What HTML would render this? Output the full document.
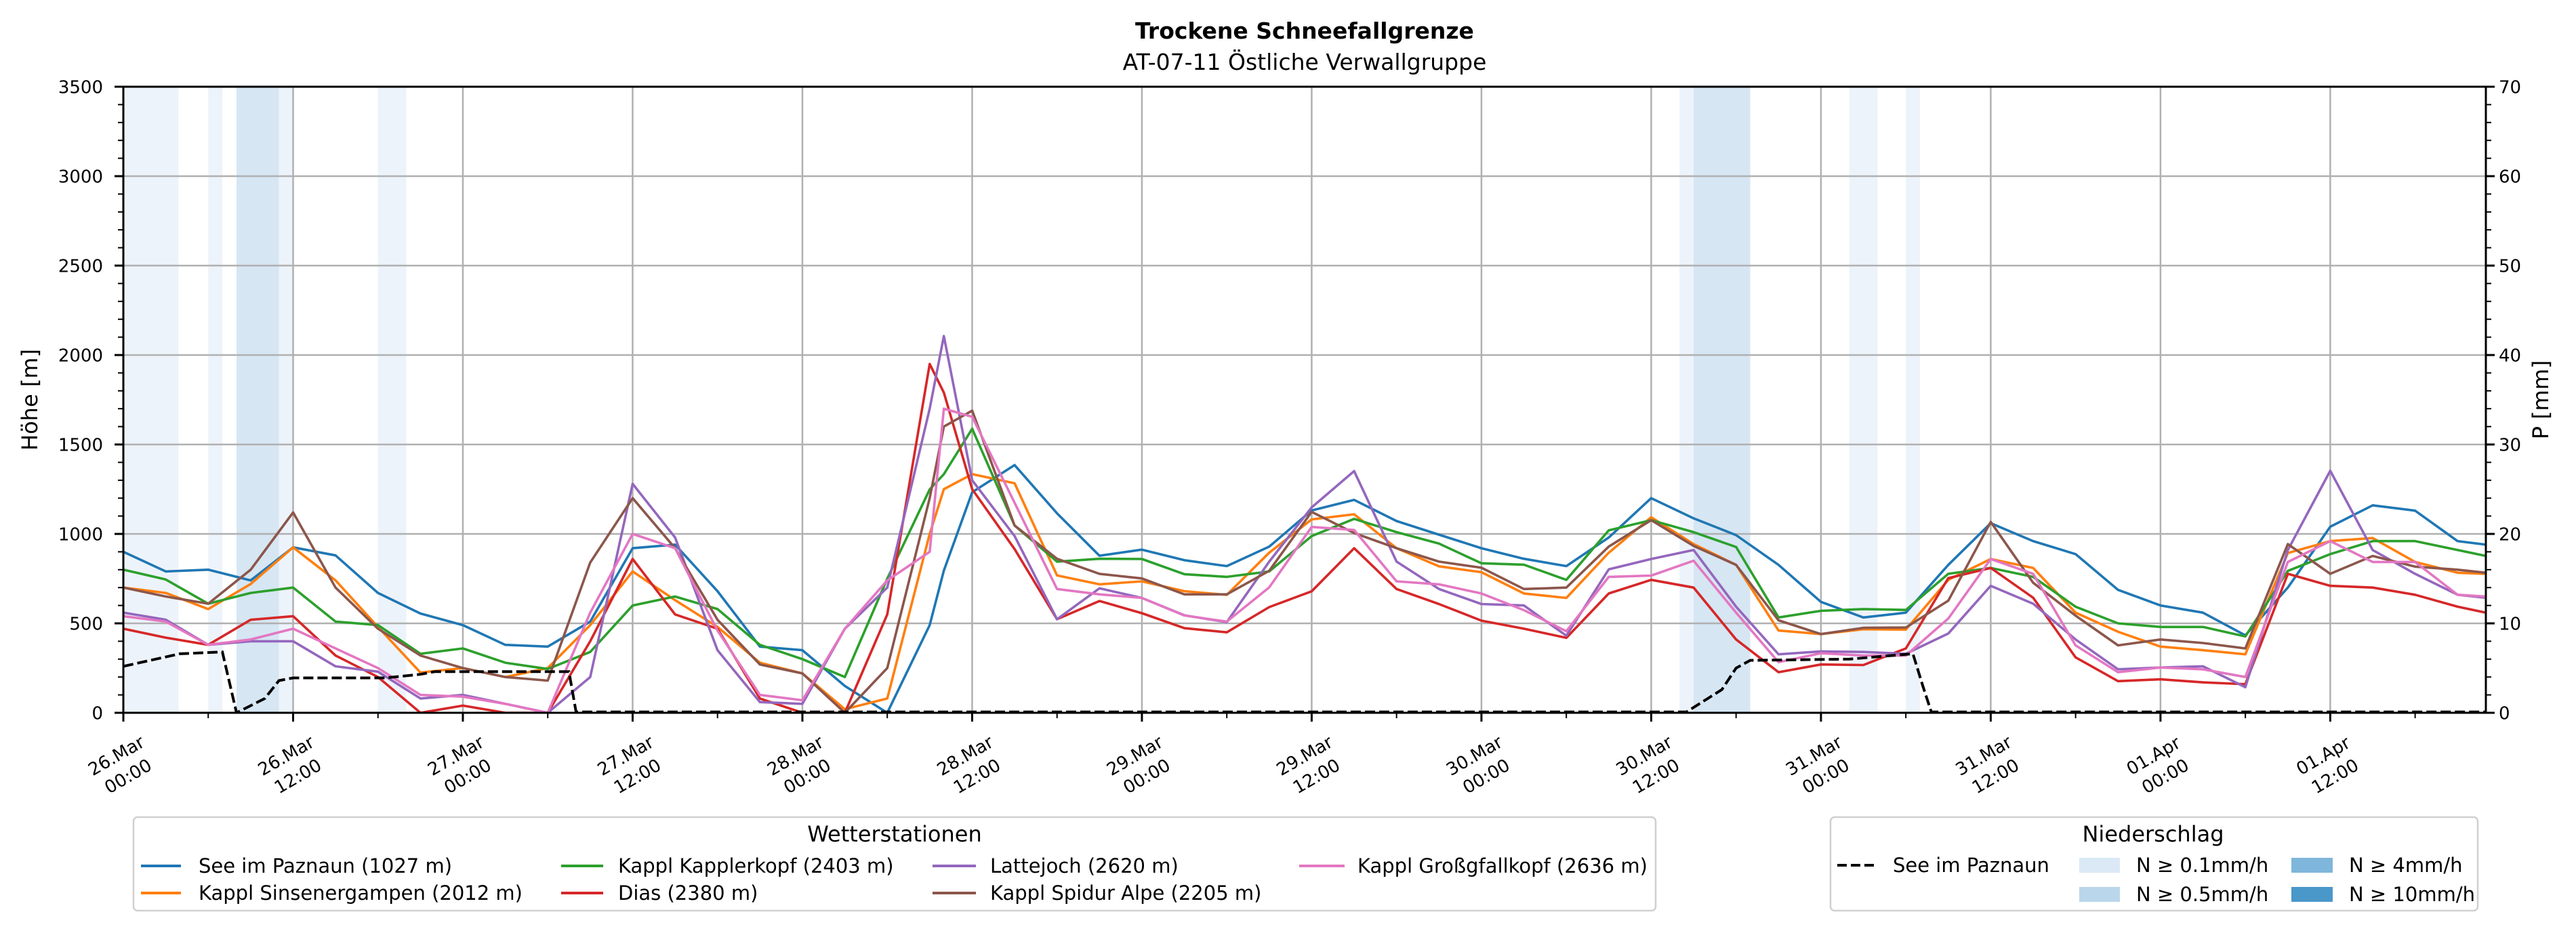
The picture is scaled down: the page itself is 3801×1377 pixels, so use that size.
<!DOCTYPE html>
<html><head><meta charset="utf-8">
<style>
html,body{margin:0;padding:0;background:#fff;}
svg{display:block;font-family:"DejaVu Sans","Liberation Sans",sans-serif;}
</style></head>
<body>
<svg id="chart" width="3801" height="1377" viewBox="0 0 3801 1377" xmlns="http://www.w3.org/2000/svg">
  <rect width="3801" height="1377" fill="#fff"/>
  <text x="1925" y="57" font-size="33" font-weight="bold" text-anchor="middle">Trockene Schneefallgrenze</text>
  <text x="1925" y="103" font-size="33" text-anchor="middle">AT-07-11 Östliche Verwallgruppe</text>
  <defs><clipPath id="plotclip"><rect x="182" y="128" width="3486" height="924"/></clipPath></defs>
  <g id="bands" clip-path="url(#plotclip)"></g>
  <g id="grid"></g>
  <g id="series" clip-path="url(#plotclip)"></g>
  <g id="axes"></g>
  <text transform="translate(55,590) rotate(-90)" font-size="32" text-anchor="middle">Höhe [m]</text>
  <text transform="translate(3760,590) rotate(-90)" font-size="32" text-anchor="middle">P [mm]</text>

  <g>
    <rect x="197" y="1206" width="2246" height="138" rx="6" fill="#fff" stroke="#d0d0d0" stroke-width="2.5"/>
    <text x="1320" y="1242" font-size="32" text-anchor="middle">Wetterstationen</text>
    <g font-size="29">
      <line x1="208" y1="1278" x2="267" y2="1278" stroke="#1f77b4" stroke-width="4"/>
      <text x="293" y="1288">See im Paznaun (1027 m)</text>
      <line x1="208" y1="1318" x2="267" y2="1318" stroke="#ff7f0e" stroke-width="4"/>
      <text x="293" y="1328">Kappl Sinsenergampen (2012 m)</text>
      <line x1="828" y1="1278" x2="890" y2="1278" stroke="#2ca02c" stroke-width="4"/>
      <text x="912" y="1288">Kappl Kapplerkopf (2403 m)</text>
      <line x1="828" y1="1318" x2="890" y2="1318" stroke="#d62728" stroke-width="4"/>
      <text x="912" y="1328">Dias (2380 m)</text>
      <line x1="1376" y1="1278" x2="1440" y2="1278" stroke="#9467bd" stroke-width="4"/>
      <text x="1461" y="1288">Lattejoch (2620 m)</text>
      <line x1="1376" y1="1318" x2="1440" y2="1318" stroke="#8c564b" stroke-width="4"/>
      <text x="1461" y="1328">Kappl Spidur Alpe (2205 m)</text>
      <line x1="1917" y1="1278" x2="1984" y2="1278" stroke="#e377c2" stroke-width="4"/>
      <text x="2003" y="1288">Kappl Großgfallkopf (2636 m)</text>
    </g>
  </g>

  <g>
    <rect x="2701" y="1206" width="955" height="138" rx="6" fill="#fff" stroke="#d0d0d0" stroke-width="2.5"/>
    <text x="3177" y="1242" font-size="32" text-anchor="middle">Niederschlag</text>
    <g font-size="29">
      <line x1="2711" y1="1277" x2="2768" y2="1277" stroke="#000" stroke-width="4" stroke-dasharray="14,6"/>
      <text x="2793" y="1287">See im Paznaun</text>
      <rect x="3068" y="1266" width="60" height="22" fill="#dbe9f6"/>
      <text x="3152" y="1287">N ≥ 0.1mm/h</text>
      <rect x="3068" y="1309" width="60" height="22" fill="#bad6eb"/>
      <text x="3152" y="1330">N ≥ 0.5mm/h</text>
      <rect x="3381" y="1266" width="61" height="22" fill="#7fb6db"/>
      <text x="3466" y="1287">N ≥ 4mm/h</text>
      <rect x="3381" y="1309" width="61" height="22" fill="#4a97c9"/>
      <text x="3466" y="1330">N ≥ 10mm/h</text>
    </g>
  </g>
</svg>
<script>
const hours = [0,3,6,9,12,15,18,21,24,27,30,33,36,39,42,45,48,51,54,57,58,60,63,66,69,72,75,78,81,84,87,90,93,96,99,102,105,108,111,114,117,120,123,126,129,132,135,138,141,144,147,150,153,156,159,162,165,167];
const seeValues = [900,790,800,740,925,880,670,555,490,380,370,510,920,940,680,370,350,150,0,490,795,1233,1385,1115,878,912,853,820,929,1131,1190,1072,996,920,861,820,980,1200,1087,993,827,620,533,560,827,1060,960,887,687,600,560,433,700,1040,1160,1130,960,940];
const sinsenValues = [700,670,580,720,925,740,480,225,250,200,250,490,790,630,480,280,220,20,80,1000,1250,1334,1283,768,718,735,680,659,895,1081,1110,920,819,786,667,642,895,1093,943,827,460,440,467,465,743,860,810,560,453,370,350,327,893,960,977,843,783,777];
const kapplerValues = [800,745,610,670,700,510,490,330,360,280,245,340,600,650,580,380,300,200,750,1249,1334,1588,1047,845,861,860,775,760,790,988,1084,1010,946,836,828,743,1020,1077,1010,927,533,570,580,575,777,810,760,593,500,480,480,427,793,887,960,960,910,877];
const diasValues = [470,420,380,520,540,320,200,0,40,0,0,400,860,550,470,80,0,0,550,1950,1790,1250,915,523,625,557,473,450,591,679,920,692,608,515,470,419,667,743,700,410,227,270,267,360,753,810,643,310,177,187,170,160,777,710,700,660,593,560];
const latteValues = [560,520,380,400,400,260,230,80,100,50,0,200,1280,980,350,60,50,470,700,1700,2106,1300,988,523,696,642,545,507,845,1148,1351,845,692,608,600,431,802,860,910,593,327,343,340,330,443,710,610,410,243,253,260,143,910,1353,910,777,660,643];
const spidurValues = [700,650,610,800,1120,700,470,320,250,200,180,840,1200,920,520,270,220,0,250,1200,1600,1689,1047,861,777,751,662,662,794,1123,1005,920,845,811,692,700,929,1077,933,827,517,440,475,477,627,1067,727,543,377,410,390,360,943,777,877,817,800,783];
const grossValues = [540,510,380,410,470,360,250,100,90,50,0,560,1000,920,460,100,70,470,740,900,1700,1655,1174,692,662,642,544,510,701,1039,1022,735,718,667,574,456,760,767,850,560,283,333,320,320,527,860,777,377,227,253,243,200,843,960,843,843,660,650];
const dashHours = [0,4,7,8,10,11,12,18.5,21,22,31.5,32,110.5,112,113,114,115,122,126.5,127.2,127.8,167];
const dashValues = [260,330,340,0,80,180,195,195,215,230,230,5,5,80,130,250,293,300,330,150,5,5];
const bandStart = [0,6,8,11,18,110,111,122,126];
const bandEnd = [3.9,7,11,12,20,111,115,124,127];
const bandLevel = [1,1,2,1,1,1,2,1,1];
const xTickLabels = ["26.Mar|00:00","26.Mar|12:00","27.Mar|00:00","27.Mar|12:00","28.Mar|00:00","28.Mar|12:00","29.Mar|00:00","29.Mar|12:00","30.Mar|00:00","30.Mar|12:00","31.Mar|00:00","31.Mar|12:00","01.Apr|00:00","01.Apr|12:00"];
const yTicksLeft = [0,500,1000,1500,2000,2500,3000,3500];
const yTicksRight = [0,10,20,30,40,50,60,70];

const NS = "http://www.w3.org/2000/svg";
const X0 = 182, X1 = 3668, Y0 = 1052, Y1 = 128, HMAX = 167, VMAX = 3500;
function xs(h){ return X0 + h * (X1 - X0) / HMAX; }
function ys(v){ return Y0 - v * (Y0 - Y1) / VMAX; }
function mk(tag, attrs, parent){ const e = document.createElementNS(NS, tag); for (const k in attrs) e.setAttribute(k, attrs[k]); parent.appendChild(e); return e; }

const bands = document.getElementById('bands');
for (let i = 0; i < bandStart.length; i++) {
  const r = mk('rect', {x: xs(bandStart[i]), y: Y1, width: xs(bandEnd[i]) - xs(bandStart[i]), height: Y0 - Y1, fill: bandLevel[i] === 2 ? '#d6e6f3' : '#edf3fa'}, bands);
  
  
}

const grid = document.getElementById('grid');
for (let i = 0; i < xTickLabels.length; i++) {
  const x = xs(i * 12);
  const l = mk('line', {x1: x, y1: Y1, x2: x, y2: Y0, stroke: '#b0b0b0', 'stroke-width': 2.5}, grid);
  
  
}
for (const v of yTicksLeft) {
  const y = ys(v);
  const l = mk('line', {x1: X0, y1: y, x2: X1, y2: y, stroke: '#b0b0b0', 'stroke-width': 2.5}, grid);
  
  
}

const series = document.getElementById('series');
const defs = [
  ['see-im-paznaun-line', seeValues, '#1f77b4'],
  ['sinsenergampen-line', sinsenValues, '#ff7f0e'],
  ['kapplerkopf-line', kapplerValues, '#2ca02c'],
  ['dias-line', diasValues, '#d62728'],
  ['lattejoch-line', latteValues, '#9467bd'],
  ['spidur-alpe-line', spidurValues, '#8c564b'],
  ['grossgfallkopf-line', grossValues, '#e377c2']
];
for (const [name, vals, col] of defs) {
  const pts = hours.map((h, i) => xs(h).toFixed(1) + ',' + ys(vals[i]).toFixed(1)).join(' ');
  const p = mk('polyline', {points: pts, fill: 'none', stroke: col, 'stroke-width': 3.6, 'stroke-linejoin': 'round'}, series);
  
  
}
{
  const pts = dashHours.map((h, i) => xs(h).toFixed(1) + ',' + ys(dashValues[i]).toFixed(1)).join(' ');
  const p = mk('polyline', {points: pts, fill: 'none', stroke: '#000', 'stroke-width': 4, 'stroke-dasharray': '15,6'}, series);
  
  
}

const axes = document.getElementById('axes');
const frame = mk('rect', {x: X0, y: Y1, width: X1 - X0, height: Y0 - Y1, fill: 'none', stroke: '#000', 'stroke-width': 3}, axes);


for (let h = 0; h <= HMAX; h += 6) {
  const major = h % 12 === 0;
  mk('line', {x1: xs(h), y1: Y0, x2: xs(h), y2: Y0 + (major ? 13 : 8), stroke: '#000', 'stroke-width': major ? 3 : 2}, axes);
}
for (let v = 0; v <= VMAX; v += 100) {
  const major = v % 500 === 0;
  const len = major ? 13 : 8;
  mk('line', {x1: X0 - len, y1: ys(v), x2: X0, y2: ys(v), stroke: '#000', 'stroke-width': major ? 3 : 2}, axes);
  mk('line', {x1: X1, y1: ys(v), x2: X1 + len, y2: ys(v), stroke: '#000', 'stroke-width': major ? 3 : 2}, axes);
}
for (const v of yTicksLeft) {
  const t = mk('text', {x: 152, y: ys(v) + 9.5, 'font-size': 26, 'text-anchor': 'end'}, axes);
  t.textContent = v;
  
  
}
for (let i = 0; i < yTicksRight.length; i++) {
  const t = mk('text', {x: 3687, y: ys(yTicksLeft[i]) + 9.5, 'font-size': 26}, axes);
  t.textContent = yTicksRight[i];
  
  
}
for (let i = 0; i < xTickLabels.length; i++) {
  const parts = xTickLabels[i].split('|');
  const g = mk('g', {transform: 'translate(' + (xs(i * 12) - 2).toFixed(1) + ',1130) rotate(-30)', 'font-size': 26, 'text-anchor': 'middle'}, axes);
  
  
  const t1 = mk('text', {x: 0, y: -8}, g); t1.textContent = parts[0];
  const t2 = mk('text', {x: 0, y: 27}, g); t2.textContent = parts[1];
}
</script>
</body></html>
